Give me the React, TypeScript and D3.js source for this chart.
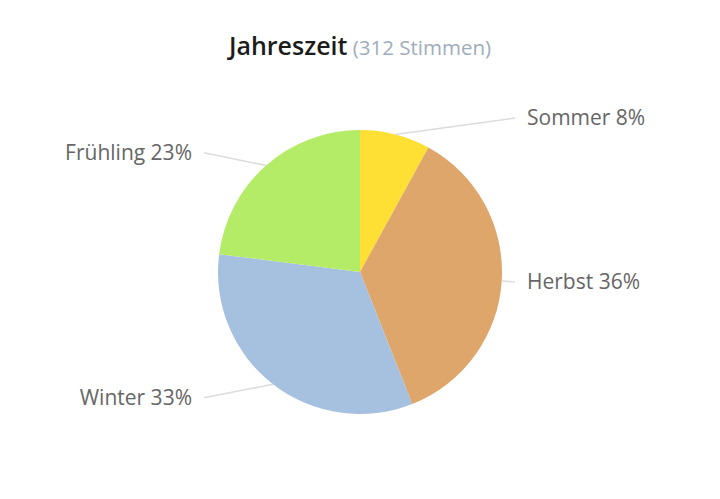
import React, { useEffect, useRef } from 'react';
import * as d3 from 'd3';

const categories = ['Sommer', 'Herbst', 'Winter', 'Frühling'];
const shares = [8, 36, 33, 23];
const colors = ['#fee035', '#dea66a', '#a6c0df', '#b5ec67'];
const totalVotes = 312;

const App = () => {
    const svgRef = useRef(null);

    useEffect(() => {
        const width = 720;
        const height = 499;
        const cx = 360;
        const cy = 272;
        const r = 142;

        const svg = d3.select(svgRef.current);
        svg.selectAll('*').remove();

        // Title
        const title = svg.append('text')
            .attr('x', cx)
            .attr('y', 55)
            .attr('text-anchor', 'middle')
            .style('font-family', '"Open Sans", sans-serif');
        title.append('tspan')
            .attr('font-size', 25)
            .attr('font-weight', 600)
            .attr('fill', '#1b1b1b')
            .text('Jahreszeit');
        title.append('tspan')
            .attr('font-size', 20.5)
            .attr('fill', '#9eacbc')
            .text(` (${totalVotes} Stimmen)`);

        const data = categories.map((c, i) => ({ name: c, value: shares[i], color: colors[i] }));

        const pie = d3.pie<any>()
            .value(d => d.value)
            .sort(null);
        const arcs = pie(data);

        const arc = d3.arc<any>().innerRadius(0).outerRadius(r);

        const g = svg.append('g').attr('transform', `translate(${cx},${cy})`);

        g.selectAll('path.slice')
            .data(arcs)
            .enter()
            .append('path')
            .attr('class', 'slice')
            .attr('d', arc)
            .attr('fill', d => d.data.color);

        // Leader lines + labels
        arcs.forEach(d => {
            const a = (d.startAngle + d.endAngle) / 2;
            const sx = r * Math.sin(a);
            const sy = -r * Math.cos(a);
            const right = Math.sin(a) >= 0;
            const ex = right ? 155 : -156;
            const ey = -r * 1.12 * Math.cos(a);

            g.append('line')
                .attr('x1', sx).attr('y1', sy)
                .attr('x2', ex).attr('y2', ey)
                .attr('stroke', '#dcdcdc')
                .attr('stroke-width', 1.5);

            g.append('text')
                .attr('x', right ? ex + 12 : ex - 12)
                .attr('y', ey)
                .attr('dy', '0.35em')
                .attr('text-anchor', right ? 'start' : 'end')
                .style('font-family', '"Open Sans", sans-serif')
                .attr('font-size', 21)
                .attr('fill', '#666')
                .text(`${d.data.name} ${d.data.value}%`);
        });

        svg.attr('width', width).attr('height', height);
    }, []);

    return (
        <svg ref={svgRef} style={{ position: 'absolute', left: 0, top: 0, background: '#fff' }}></svg>
    );
};

export default App;
